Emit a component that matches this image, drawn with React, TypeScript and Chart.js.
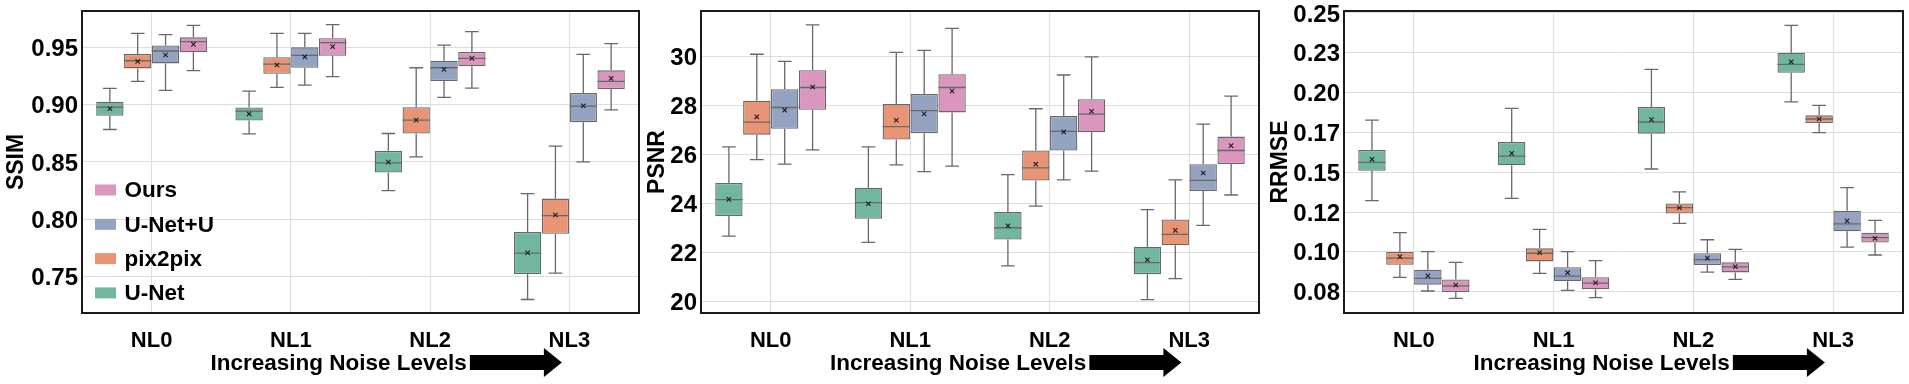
import React, { useEffect, useRef } from 'react';
import { Chart, registerables } from 'chart.js';

Chart.register(...registerables);

const FONT = "'Liberation Sans', Arial, sans-serif";

const CATEGORIES = ['NL0', 'NL1', 'NL2', 'NL3'];
const METHODS = ['U-Net', 'pix2pix', 'U-Net+U', 'Ours'];
const COLORS = ['#71b6a1', '#e99575', '#95a3c3', '#db96c0'];
const LEGEND_ORDER = [3, 2, 1, 0];
const X_TITLE = 'Increasing Noise Levels';

// each entry per noise level: [whiskerLow, q1, median, q3, whiskerHigh, mean]
const SSIM_UNET = [
  [0.8783, 0.8903, 0.8978, 0.9025, 0.9142, 0.8964],
  [0.8745, 0.8862, 0.8943, 0.8976, 0.9118, 0.892],
  [0.825, 0.8407, 0.8492, 0.8597, 0.8748, 0.8498],
  [0.73, 0.7522, 0.7705, 0.7889, 0.8224, 0.7708],
];
const SSIM_PIX2PIX = [
  [0.9203, 0.9316, 0.9383, 0.9442, 0.9622, 0.9378],
  [0.915, 0.927, 0.9354, 0.9413, 0.9622, 0.9346],
  [0.8544, 0.8748, 0.8865, 0.8978, 0.9322, 0.8865],
  [0.753, 0.7874, 0.8031, 0.818, 0.8638, 0.8037],
];
const SSIM_UNETU = [
  [0.9124, 0.936, 0.9468, 0.9517, 0.9611, 0.9433],
  [0.9171, 0.9322, 0.943, 0.95, 0.9622, 0.9416],
  [0.9063, 0.9206, 0.9322, 0.9383, 0.952, 0.9308],
  [0.8501, 0.8847, 0.8987, 0.9101, 0.9439, 0.899],
];
const SSIM_OURS = [
  [0.9296, 0.9456, 0.955, 0.9587, 0.9692, 0.9526],
  [0.9244, 0.9427, 0.9541, 0.9579, 0.9698, 0.9506],
  [0.9144, 0.9334, 0.9404, 0.9459, 0.9637, 0.9404],
  [0.8955, 0.9136, 0.9203, 0.9299, 0.9532, 0.9229],
];

const PSNR_UNET = [
  [22.66, 23.48, 24.15, 24.83, 26.31, 24.16],
  [22.4, 23.37, 24.03, 24.64, 26.31, 23.98],
  [21.44, 22.52, 23.0, 23.64, 25.17, 23.08],
  [20.06, 21.1, 21.57, 22.22, 23.74, 21.69],
];
const PSNR_PIX2PIX = [
  [25.79, 26.81, 27.32, 28.2, 30.1, 27.54],
  [25.57, 26.61, 27.14, 28.06, 30.18, 27.4],
  [23.88, 24.93, 25.45, 26.16, 27.87, 25.6],
  [20.92, 22.28, 22.73, 23.34, 24.96, 22.89],
];
const PSNR_UNETU = [
  [25.6, 27.05, 27.92, 28.67, 29.81, 27.81],
  [25.3, 26.87, 27.79, 28.47, 30.26, 27.66],
  [24.96, 26.16, 26.94, 27.57, 29.25, 26.92],
  [23.1, 24.5, 24.94, 25.6, 27.24, 25.24],
];
const PSNR_OURS = [
  [26.19, 27.83, 28.74, 29.45, 31.3, 28.76],
  [25.52, 27.72, 28.74, 29.28, 31.16, 28.59],
  [25.32, 26.91, 27.65, 28.26, 29.99, 27.76],
  [24.34, 25.61, 26.16, 26.73, 28.39, 26.36],
];

const RRMSE_UNET = [
  [0.1321, 0.1509, 0.1562, 0.1639, 0.1827, 0.1581],
  [0.1336, 0.1543, 0.1601, 0.169, 0.1901, 0.1618],
  [0.152, 0.1742, 0.1815, 0.1909, 0.2145, 0.183],
  [0.1942, 0.2124, 0.2177, 0.225, 0.2422, 0.2193],
];
const RRMSE_PIX2PIX = [
  [0.084, 0.0919, 0.0961, 0.0999, 0.112, 0.097],
  [0.0865, 0.094, 0.0991, 0.1022, 0.1141, 0.0995],
  [0.1179, 0.124, 0.1277, 0.1304, 0.1376, 0.1277],
  [0.1748, 0.1809, 0.1834, 0.1857, 0.1919, 0.1834],
];
const RRMSE_UNETU = [
  [0.0754, 0.0794, 0.0834, 0.0888, 0.1001, 0.085],
  [0.0758, 0.0815, 0.0848, 0.0903, 0.1001, 0.0869],
  [0.0873, 0.0917, 0.0951, 0.0991, 0.1076, 0.0961],
  [0.103, 0.1129, 0.1175, 0.1258, 0.1403, 0.1194],
];
const RRMSE_OURS = [
  [0.0708, 0.0748, 0.0786, 0.0827, 0.0934, 0.0792],
  [0.0712, 0.0765, 0.0804, 0.084, 0.0945, 0.0806],
  [0.0827, 0.0871, 0.0905, 0.0934, 0.1016, 0.0907],
  [0.098, 0.1058, 0.1089, 0.112, 0.1198, 0.1085],
];

const SSIM_TICKS = [0.75, 0.8, 0.85, 0.9, 0.95];
const SSIM_TICK_LABELS = ['0.75', '0.80', '0.85', '0.90', '0.95'];
const PSNR_TICKS = [20, 22, 24, 26, 28, 30];
const PSNR_TICK_LABELS = ['20', '22', '24', '26', '28', '30'];
const RRMSE_TICKS = [0.075, 0.1, 0.125, 0.15, 0.175, 0.2, 0.225, 0.25];
const RRMSE_TICK_LABELS = ['0.08', '0.10', '0.12', '0.15', '0.17', '0.20', '0.23', '0.25'];

const EDGE = '#686868';
const GRID = '#dedede';

type PanelSpec = {
  left: number;
  width: number;
  yAxisWidth: number;
  padRight: number;
  titlePad: number;
  title: string;
  min: number;
  max: number;
  ticks: number[];
  tickLabels: string[];
  series: number[][][];
  legend: boolean;
};

const PANELS: PanelSpec[] = [
  {
    left: 0, width: 660, yAxisWidth: 82, padRight: 21, titlePad: 5,
    title: 'SSIM', min: 0.7182, max: 0.9817,
    ticks: SSIM_TICKS, tickLabels: SSIM_TICK_LABELS,
    series: [SSIM_UNET, SSIM_PIX2PIX, SSIM_UNETU, SSIM_OURS], legend: true,
  },
  {
    left: 640, width: 640, yAxisWidth: 61, padRight: 21, titlePad: 6.5,
    title: 'PSNR', min: 19.51, max: 31.87,
    ticks: PSNR_TICKS, tickLabels: PSNR_TICK_LABELS,
    series: [PSNR_UNET, PSNR_PIX2PIX, PSNR_UNETU, PSNR_OURS], legend: false,
  },
  {
    left: 1265, width: 644, yAxisWidth: 79, padRight: 6, titlePad: 4.5,
    title: 'RRMSE', min: 0.0616, max: 0.2512,
    ticks: RRMSE_TICKS, tickLabels: RRMSE_TICK_LABELS,
    series: [RRMSE_UNET, RRMSE_PIX2PIX, RRMSE_UNETU, RRMSE_OURS], legend: false,
  },
];

const boxPlugin = {
  id: 'boxExtras',
  afterDatasetsDraw(chart: any) {
    const { ctx } = chart;
    const y = chart.scales.y;
    chart.data.datasets.forEach((ds: any, d: number) => {
      const meta = chart.getDatasetMeta(d);
      meta.data.forEach((el: any, j: number) => {
        const s = ds.stats[j];
        const x = el.x;
        const w = el.width;
        const pLow = y.getPixelForValue(s[0]);
        const pQ1 = y.getPixelForValue(s[1]);
        const pMed = y.getPixelForValue(s[2]);
        const pQ3 = y.getPixelForValue(s[3]);
        const pHigh = y.getPixelForValue(s[4]);
        const pMean = y.getPixelForValue(s[5]);
        ctx.save();
        ctx.strokeStyle = EDGE;
        ctx.lineWidth = 1.3;
        ctx.beginPath();
        ctx.moveTo(x, pQ3);
        ctx.lineTo(x, pHigh);
        ctx.moveTo(x, pQ1);
        ctx.lineTo(x, pLow);
        ctx.moveTo(x - w / 4, pHigh);
        ctx.lineTo(x + w / 4, pHigh);
        ctx.moveTo(x - w / 4, pLow);
        ctx.lineTo(x + w / 4, pLow);
        ctx.moveTo(x - w / 2, pMed);
        ctx.lineTo(x + w / 2, pMed);
        ctx.stroke();
        ctx.strokeStyle = '#1e1e1e';
        ctx.lineWidth = 1.1;
        const m = 2.2;
        ctx.beginPath();
        ctx.moveTo(x - m, pMean - m);
        ctx.lineTo(x + m, pMean + m);
        ctx.moveTo(x - m, pMean + m);
        ctx.lineTo(x + m, pMean - m);
        ctx.stroke();
        ctx.restore();
      });
    });
  },
};

const framePlugin = {
  id: 'frame',
  afterDraw(chart: any) {
    const { ctx, chartArea: a } = chart;
    ctx.save();
    ctx.strokeStyle = '#1a1a1a';
    ctx.lineWidth = 2;
    ctx.strokeRect(a.left, a.top, a.right - a.left, a.bottom - a.top);
    ctx.restore();
  },
};

const xTitlePlugin = {
  id: 'xTitleArrow',
  afterDraw(chart: any) {
    const { ctx, chartArea: a } = chart;
    ctx.save();
    ctx.font = `bold 22.5px ${FONT}`;
    ctx.fillStyle = '#000';
    ctx.textAlign = 'left';
    ctx.textBaseline = 'alphabetic';
    const cx = (a.left + a.right) / 2;
    const x0 = cx - 150;
    const w = ctx.measureText(X_TITLE).width;
    ctx.fillText(X_TITLE, x0, 370);
    const ax = x0 + w + 3;
    ctx.fillRect(ax, 355, 75, 15);
    ctx.beginPath();
    ctx.moveTo(ax + 74, 348);
    ctx.lineTo(ax + 74, 377);
    ctx.lineTo(ax + 92, 362.5);
    ctx.closePath();
    ctx.fill();
    ctx.restore();
  },
};

const legendPlugin = {
  id: 'boxLegend',
  afterDraw(chart: any) {
    const { ctx, chartArea: a } = chart;
    ctx.save();
    ctx.font = `bold 22.5px ${FONT}`;
    ctx.textAlign = 'left';
    ctx.textBaseline = 'middle';
    LEGEND_ORDER.forEach((idx, k) => {
      const yc = a.top + 179 + k * 34.3;
      ctx.fillStyle = COLORS[idx];
      ctx.fillRect(a.left + 13, yc - 5.5, 21, 11);
      ctx.fillStyle = '#000';
      ctx.fillText(METHODS[idx], a.left + 42.5, yc + 1);
    });
    ctx.restore();
  },
};

function Panel({ spec }: { spec: PanelSpec }) {
  const ref = useRef<HTMLCanvasElement>(null);
  useEffect(() => {
    const canvas = ref.current;
    if (!canvas) return;
    const datasets = METHODS.map((name, i) => ({
      label: name,
      data: spec.series[i].map((s) => [s[1], s[3]]),
      stats: spec.series[i],
      backgroundColor: COLORS[i],
      borderColor: EDGE,
      borderWidth: 1.3,
      borderSkipped: false,
      categoryPercentage: 0.8,
      barPercentage: 0.98,
    }));
    const tickFont = { family: FONT, size: 24, weight: 'bold' as const };
    const chart = new Chart(canvas, {
      type: 'bar',
      data: { labels: CATEGORIES, datasets: datasets as any },
      options: {
        responsive: false,
        animation: false,
        devicePixelRatio: 1,
        layout: { padding: { top: 11, right: spec.padRight, bottom: 0, left: 0 } },
        plugins: { legend: { display: false }, tooltip: { enabled: false } },
        scales: {
          x: {
            type: 'category',
            offset: true,
            grid: { offset: false, color: GRID, lineWidth: 1, drawTicks: false },
            border: { display: false },
            ticks: {
              font: { family: FONT, size: 22, weight: 'bold' },
              color: '#000',
              padding: 15,
              autoSkip: false,
              maxRotation: 0,
            },
            afterFit: (s: any) => {
              s.height = 71;
              s.paddingLeft = 0;
              s.paddingRight = 0;
            },
          },
          y: {
            type: 'linear',
            min: spec.min,
            max: spec.max,
            grid: { color: GRID, lineWidth: 1, drawTicks: false },
            border: { display: false },
            ticks: {
              font: tickFont,
              color: '#000',
              padding: 4,
              labelOffset: 2,
              autoSkip: false,
              callback: (_v: any, i: number) => spec.tickLabels[i],
            },
            afterBuildTicks: (s: any) => {
              s.ticks = spec.ticks.map((v) => ({ value: v }));
            },
            afterFit: (s: any) => {
              s.width = spec.yAxisWidth;
              s.paddingTop = 0;
              s.paddingBottom = 0;
            },
            title: {
              display: true,
              text: spec.title,
              color: '#000',
              font: { family: FONT, size: 23, weight: 'bold', lineHeight: 1 },
              padding: { top: spec.titlePad, bottom: 0 },
            },
          },
        },
      } as any,
      plugins: [boxPlugin, framePlugin, xTitlePlugin, ...(spec.legend ? [legendPlugin] : [])],
    });
    return () => chart.destroy();
  }, [spec]);
  return (
    <canvas
      ref={ref}
      width={spec.width}
      height={384}
      style={{ position: 'absolute', left: spec.left, top: 0, width: spec.width, height: 384 }}
    />
  );
}

export default function App() {
  return (
    <div style={{ position: 'fixed', left: 0, top: 0, width: 1909, height: 384, background: '#fff', overflow: 'hidden' }}>
      {PANELS.map((p) => (
        <Panel key={p.title} spec={p} />
      ))}
    </div>
  );
}
